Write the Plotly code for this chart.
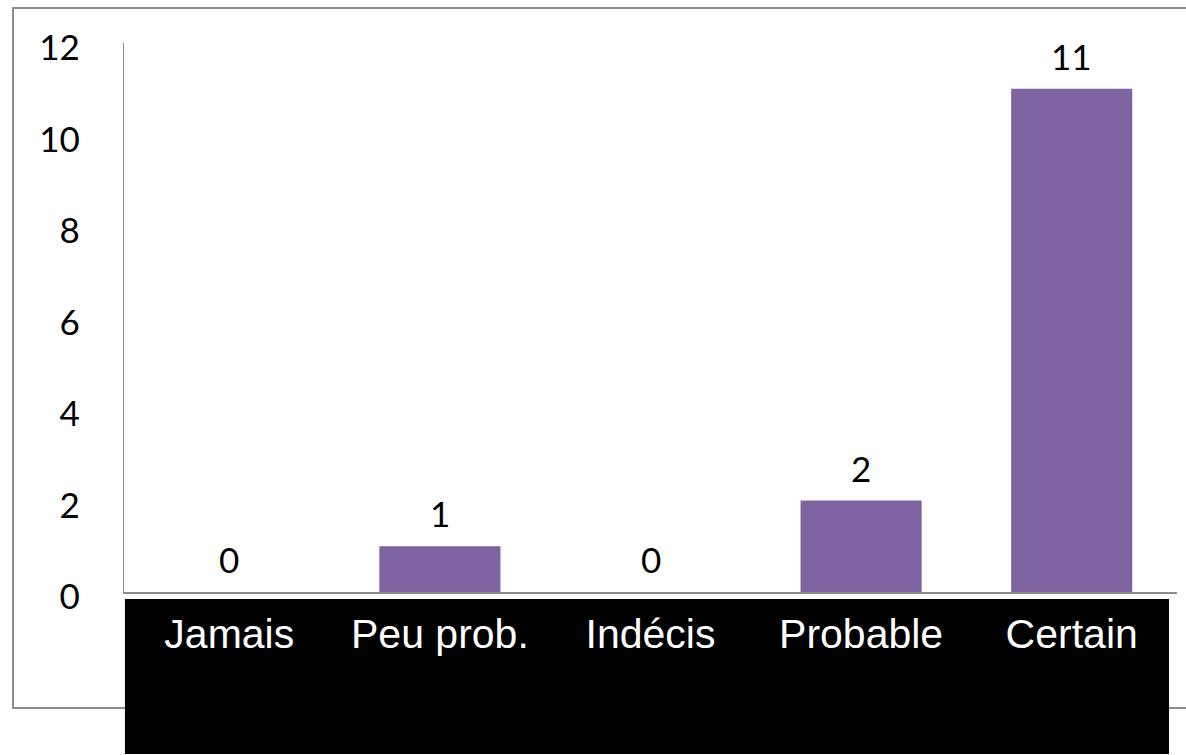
import plotly.graph_objects as go

categories = ["Jamais", "Peu prob.", "Indécis", "Probable", "Certain"]
values = [0, 1, 0, 2, 11]
y_ticks = [0, 2, 4, 6, 8, 10, 12]

BAR = "#8064A2"
GRAY = "#8c8c8c"

fig = go.Figure()
fig.add_trace(go.Bar(
    x=categories, y=values,
    marker=dict(color=BAR, line=dict(width=0)),
    hoverinfo="skip",
))

for c, v in zip(categories, values):
    fig.add_annotation(
        x=c, y=v, xref="x", yref="y",
        text=str(v), showarrow=False,
        yanchor="bottom", yshift=10,
        font=dict(family="Lato", size=35, color="black"),
    )

# outer frame
fig.add_shape(type="rect", xref="paper", yref="paper",
              x0=-0.1054, x1=1.05, y0=-0.2113, y1=1.0638,
              line=dict(color=GRAY, width=2), fillcolor="rgba(0,0,0,0)",
              layer="below")
# black band behind category labels
fig.add_shape(type="rect", xref="paper", yref="paper",
              x0=0.0009, x1=0.9924, y0=-0.2951, y1=-0.01275,
              line=dict(width=0), fillcolor="black", layer="below")

fig.update_layout(
    width=1186, height=755,
    margin=dict(l=124, r=9, t=43, b=163),
    paper_bgcolor="white", plot_bgcolor="rgba(0,0,0,0)",
    bargap=0.425,
    showlegend=False,
    xaxis=dict(
        showline=True, linecolor=GRAY, linewidth=2,
        ticks="", showgrid=False, automargin=False,
        tickfont=dict(family="Liberation Sans, Arial", size=41, color="white"),
        ticklabelstandoff=5,
    ),
    yaxis=dict(
        range=[0, 12], tickvals=y_ticks,
        showline=True, linecolor=GRAY, linewidth=1.3,
        ticks="", showgrid=False, zeroline=False, automargin=False,
        tickfont=dict(family="Lato", size=35, color="black"),
        ticklabelstandoff=36, ticklabelshift=5,
    ),
)

fig.write_html(
    "out.html",
    config={"displayModeBar": False},
    post_script="document.body.style.margin='0';document.body.style.overflow='hidden';",
)
